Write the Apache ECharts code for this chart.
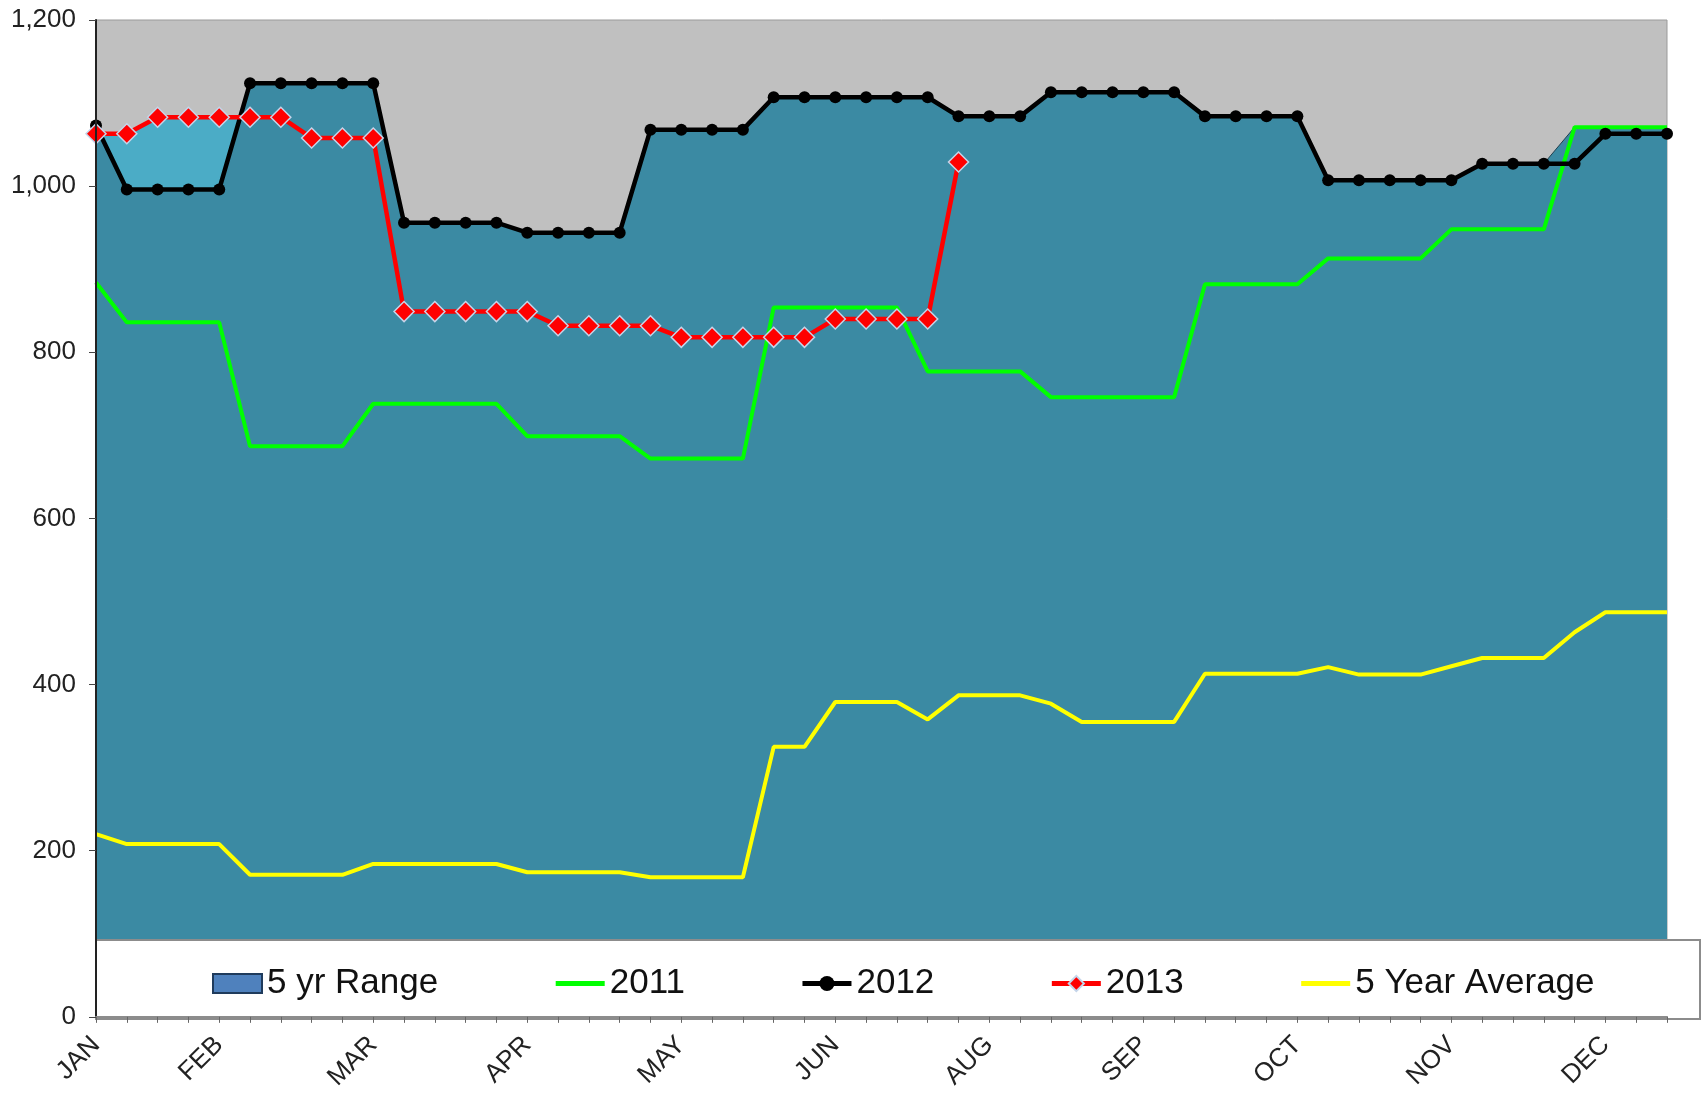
<!DOCTYPE html>
<html>
<head>
<meta charset="utf-8">
<script src="https://cdn.jsdelivr.net/npm/echarts@6/dist/echarts.min.js"></script>
<style>
  html, body { margin: 0; padding: 0; background: #fff; }
  #storageChart { width: 1703px; height: 1093px; }
</style>
</head>
<body>
<div id="storageChart"></div>
<script>
// month tick labels and the week index each one sits on
var monthLabels = ["JAN", "FEB", "MAR", "APR", "MAY", "JUN", "AUG", "SEP", "OCT", "NOV", "DEC"];
var monthWeekIdx = [0, 4, 9, 14, 19, 24, 29, 34, 39, 44, 49];
var weekCount = 52;

// upper edge of the 5 yr range
var rangeMax = [1073, 996, 996, 996, 996, 1124, 1124, 1124, 1124, 1124,
  956, 956, 956, 956, 944, 944, 944, 944, 1068, 1068, 1068, 1068,
  1107, 1107, 1107, 1107, 1107, 1107, 1084, 1084, 1084,
  1113, 1113, 1113, 1113, 1113, 1084, 1084, 1084, 1084,
  1007, 1007, 1007, 1007, 1007, 1027, 1027, 1027, 1071, 1071, 1071, 1071];

var y2011 = [884, 836, 836, 836, 836, 687, 687, 687, 687,
  738, 738, 738, 738, 738, 699, 699, 699, 699, 672, 672, 672, 672,
  854, 854, 854, 854, 854, 777, 777, 777, 777,
  746, 746, 746, 746, 746, 882, 882, 882, 882,
  913, 913, 913, 913, 948, 948, 948, 948, 1071, 1071, 1071, 1071];

var y2012 = [1073, 996, 996, 996, 996, 1124, 1124, 1124, 1124, 1124,
  956, 956, 956, 956, 944, 944, 944, 944, 1068, 1068, 1068, 1068,
  1107, 1107, 1107, 1107, 1107, 1107, 1084, 1084, 1084,
  1113, 1113, 1113, 1113, 1113, 1084, 1084, 1084, 1084,
  1007, 1007, 1007, 1007, 1007, 1027, 1027, 1027, 1027, 1063, 1063, 1063];

var y2013 = [1063, 1063, 1083, 1083, 1083, 1083, 1083, 1058, 1058, 1058,
  849, 849, 849, 849, 849, 832, 832, 832, 832,
  818, 818, 818, 818, 818, 840, 840, 840, 840, 1029];

var avg5 = [220, 208, 208, 208, 208, 171, 171, 171, 171,
  184, 184, 184, 184, 184, 174, 174, 174, 174, 168, 168, 168, 168,
  325, 325, 379, 379, 379, 358, 387, 387, 387, 377,
  355, 355, 355, 355, 413, 413, 413, 413, 421, 412, 412, 412, 422,
  432, 432, 432, 463, 487, 487, 487];

var categories = [];
for (var i = 0; i < weekCount; i++) {
  var k = monthWeekIdx.indexOf(i);
  categories.push(k >= 0 ? monthLabels[k] : "W" + (i + 1));
}

var font = "'Liberation Sans', Arial, sans-serif";
var chart = echarts.init(document.getElementById("storageChart"));

var option = {
  animation: false,
  grid: {
    left: 96,
    top: 20,
    right: 36,
    bottom: 74,
    show: true,
    backgroundColor: "#C0C0C0",
    borderColor: "#9a9a9a",
    borderWidth: 1
  },
  legend: {
    left: 207,
    top: 961,
    itemGap: 115,
    itemWidth: 49,
    itemHeight: 19,
    z: 20,
    textStyle: { fontSize: 35, color: "#111", fontFamily: font },
    data: [
      { name: "5 yr Range", icon: "rect",
        itemStyle: { color: "#4F81BD", borderColor: "#1F3B5C", borderWidth: 2 } },
      { name: "2011", itemStyle: { opacity: 0 }, lineStyle: { width: 5 } },
      { name: "2012", lineStyle: { width: 5 } },
      { name: "2013", lineStyle: { width: 5 } },
      { name: "5 Year Average", itemStyle: { opacity: 0 }, lineStyle: { width: 5 } }
    ]
  },
  graphic: [
    {
      type: "rect",
      z: 10,
      shape: { x: 96, y: 940, width: 1604, height: 79 },
      style: { fill: "#fff", stroke: "#8c8c8c", lineWidth: 2 }
    }
  ],
  xAxis: {
    type: "category",
    data: categories,
    boundaryGap: false,
    z: 15,
    axisLine: { lineStyle: { color: "#8c8c8c", width: 2 } },
    axisTick: { show: true, interval: 0, length: 6, lineStyle: { color: "#666" } },
    axisLabel: {
      interval: function (idx) { return monthWeekIdx.indexOf(idx) >= 0; },
      rotate: 45,
      margin: 24,
      fontSize: 26,
      color: "#222",
      fontFamily: font
    },
    splitLine: { show: false }
  },
  yAxis: {
    type: "value",
    min: 0,
    max: 1200,
    interval: 200,
    z: 15,
    axisLine: { show: true, lineStyle: { color: "#222", width: 2 } },
    axisTick: { show: true, length: 7, lineStyle: { color: "#444" } },
    axisLabel: {
      fontSize: 26,
      color: "#222",
      margin: 20,
      fontFamily: font,
      formatter: function (v) { return v.toLocaleString("en-US"); }
    },
    splitLine: { show: false }
  },
  series: [
    {
      name: "2013 fill",
      type: "line",
      data: y2013,
      symbol: "none",
      silent: true,
      lineStyle: { width: 0 },
      areaStyle: { color: "#4BACC6", opacity: 1 }
    },
    {
      name: "5 yr Range",
      type: "line",
      data: rangeMax,
      symbol: "none",
      itemStyle: { color: "#4F81BD" },
      lineStyle: { color: "#1d3f4f", width: 1 },
      areaStyle: { color: "#3B8AA3", opacity: 1 }
    },
    {
      name: "2011",
      type: "line",
      data: y2011,
      symbol: "none",
      itemStyle: { color: "#00FF00" },
      lineStyle: { color: "#00FF00", width: 4 }
    },
    {
      name: "5 Year Average",
      type: "line",
      data: avg5,
      symbol: "none",
      itemStyle: { color: "#FFFF00" },
      lineStyle: { color: "#FFFF00", width: 4 }
    },
    {
      name: "2012",
      type: "line",
      data: y2012,
      symbol: "circle",
      symbolSize: 12,
      itemStyle: { color: "#000" },
      lineStyle: { color: "#000", width: 4.5 }
    },
    {
      name: "2013",
      type: "line",
      data: y2013,
      symbol: "diamond",
      symbolSize: 20,
      itemStyle: { color: "#FF0000", borderColor: "#C5D5EA", borderWidth: 1.5 },
      lineStyle: { color: "#FF0000", width: 4.5 }
    }
  ]
};

chart.setOption(option);
</script>
</body>
</html>
